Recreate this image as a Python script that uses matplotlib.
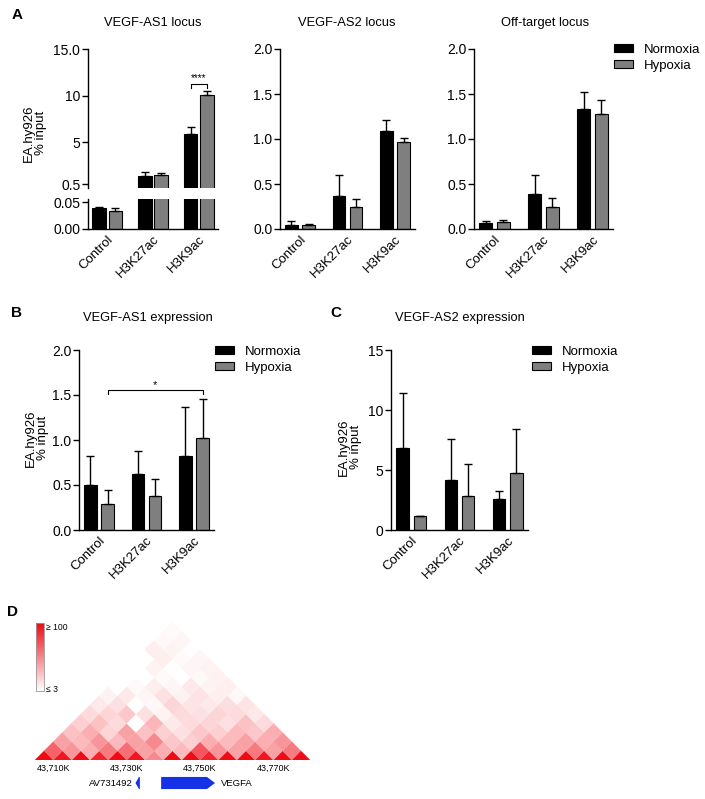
import numpy as np
import matplotlib
matplotlib.use("Agg")
import matplotlib.pyplot as plt
from matplotlib.collections import PolyCollection
from matplotlib.colors import LinearSegmentedColormap, Normalize
from matplotlib.patches import Polygon

plt.rcParams['font.family'] = ['Liberation Sans', 'DejaVu Sans']

W, H = 705, 799

groups = ["Control", "H3K27ac", "H3K9ac"]
conditions = ["Normoxia", "Hypoxia"]

# A: ChIP-qPCR, % input
as1_locus_norm = [0.038, 1.4, 5.9]
as1_locus_norm_err = [0.003, 0.4, 0.8]
as1_locus_hyp = [0.034, 1.55, 10.1]
as1_locus_hyp_err = [0.004, 0.22, 0.4]

as2_locus_norm = [0.05, 0.37, 1.09]
as2_locus_norm_err = [0.035, 0.23, 0.12]
as2_locus_hyp = [0.05, 0.24, 0.97]
as2_locus_hyp_err = [0.005, 0.09, 0.04]

off_locus_norm = [0.07, 0.385, 1.33]
off_locus_norm_err = [0.02, 0.215, 0.19]
off_locus_hyp = [0.078, 0.245, 1.28]
off_locus_hyp_err = [0.022, 0.105, 0.15]

# B / C: expression
as1_expr_norm = [0.5, 0.62, 0.82]
as1_expr_norm_err = [0.32, 0.255, 0.55]
as1_expr_hyp = [0.286, 0.375, 1.02]
as1_expr_hyp_err = [0.155, 0.195, 0.44]

as2_expr_norm = [6.8, 4.2, 2.55]
as2_expr_norm_err = [4.65, 3.4, 0.7]
as2_expr_hyp = [1.2, 2.83, 4.78]
as2_expr_hyp_err = [0.0, 2.64, 3.62]

# D: contact heatmap, 5 kb bins from 43,705K, one list per diagonal offset
bin_start_kb = 43705
bin_size_kb = 5
contact_diagonals = [
    [100, 95, 100, 90, 100, 95, 50, 100, 100, 90, 100, 100, 95, 100, 100],
    [65, 45, 35, 55, 60, 40, 35, 30, 70, 45, 40, 55, 40, 55],
    [40, 30, 45, 30, 40, 50, 25, 22, 35, 30, 40, 35, 45],
    [28, 35, 20, 40, 28, 22, 15, 25, 22, 30, 25, 35],
    [22, 28, 18, 3, 32, 12, 18, 20, 15, 28, 18],
    [18, 20, 25, 15, 8, 18, 15, 20, 18, 12],
    [12, 15, 3, 6, 20, 14, 12, 16, 14],
    [8, 12, 7, 15, 9, 14, 10, 6],
    [3, 5, 10, 7, 12, 8, 10],
    [3, 3, 5, 3, 6, 9],
    [3, 8, 4, 7, 8],
    [3, 10, 5, 7],
    [10, 8, 4],
    [6, 7],
    [5],
]
coord_ticks_kb = [43710, 43730, 43750, 43770]
coord_labels = ["43,710K", "43,730K", "43,750K", "43,770K"]

gene_names = ["AV731492", "VEGFA"]
gene_starts_kb = [43732.4, 43739.4]
gene_ends_kb = [43733.6, 43754.1]
gene_strands = [-1, 1]

NORM_COLOR = "black"
HYP_COLOR = "#7f7f7f"
TICK_FS = 10


def rect(left, top, right, bottom):
    return [left / W, 1 - bottom / H, (right - left) / W, (bottom - top) / H]


def ftext(x, y, s, **kw):
    return fig.text(x / W, 1 - y / H, s, **kw)


def style_axes(ax, show_x=True):
    for side in ("top", "right"):
        ax.spines[side].set_visible(False)
    ax.spines["left"].set_linewidth(1.0)
    ax.spines["bottom"].set_linewidth(1.0)
    ax.tick_params(axis="y", length=4, width=1, labelsize=TICK_FS, pad=1.5)
    ax.tick_params(axis="x", length=0, labelsize=TICK_FS - 0.5, pad=3)
    ax.set_xlim(-0.42, 2.42)
    if show_x:
        ax.set_xticks(np.arange(3))
        ax.set_xticklabels(groups, rotation=45, ha="right", rotation_mode="anchor")
    else:
        ax.spines["bottom"].set_visible(False)
        ax.set_xticks([])


def draw_bars(ax, norm, norm_err, hyp, hyp_err, width=0.26, off=0.18, err_from=0):
    x = np.arange(len(groups))
    b1 = ax.bar(x - off, norm, width, color=NORM_COLOR, edgecolor="black", lw=0.8, label=conditions[0])
    b2 = ax.bar(x + off, hyp, width, color=HYP_COLOR, edgecolor="black", lw=0.8, label=conditions[1])
    sl = slice(err_from, None)
    zero = np.zeros(len(x[sl]))
    ax.errorbar((x - off)[sl], np.asarray(norm)[sl], yerr=[zero, np.asarray(norm_err)[sl]],
                fmt="none", ecolor="black", elinewidth=1, capsize=3, capthick=1)
    ax.errorbar((x + off)[sl], np.asarray(hyp)[sl], yerr=[zero, np.asarray(hyp_err)[sl]],
                fmt="none", ecolor="black", elinewidth=1, capsize=3, capthick=1)
    return b1, b2


def bracket(ax, x0, x1, y, leg, label, fs):
    ax.plot([x0, x0, x1, x1], [y - leg, y, y, y - leg], color="black", lw=0.8)
    ax.text((x0 + x1) / 2, y, label, ha="center", va="bottom", fontsize=fs)


fig = plt.figure(figsize=(W / 100, H / 100), dpi=100)

# ---- A1: broken axis
ax_up = fig.add_axes(rect(88, 49, 218, 188))
ax_lo = fig.add_axes(rect(88, 199, 218, 229))
handles = draw_bars(ax_up, as1_locus_norm, as1_locus_norm_err, as1_locus_hyp, as1_locus_hyp_err,
                    width=0.3, off=0.18, err_from=1)
draw_bars(ax_lo, as1_locus_norm, as1_locus_norm_err, as1_locus_hyp, as1_locus_hyp_err,
          width=0.3, off=0.18)
style_axes(ax_up, show_x=False)
style_axes(ax_lo)
ax_up.set_ylim(0.12, 15)
ax_up.set_yticks([0.5, 5, 10, 15])
ax_up.set_yticklabels(["0.5", "5", "10", "15.0"])
ax_lo.set_ylim(0, 0.0556)
ax_lo.set_yticks([0, 0.05])
ax_lo.set_yticklabels(["0.00", "0.05"])
bracket(ax_up, 2 - 0.18, 2 + 0.18, 11.3, 0.5, "****", 7)
ftext(153, 23, "VEGF-AS1 locus", ha="center", va="center", fontsize=9.3)
ftext(35, 133, "EA.hy926\n% input", ha="center", va="center", rotation=90, fontsize=9.5,
      linespacing=1.0)

# ---- A2
ax2 = fig.add_axes(rect(280, 49, 415, 229))
draw_bars(ax2, as2_locus_norm, as2_locus_norm_err, as2_locus_hyp, as2_locus_hyp_err)
style_axes(ax2)
ax2.set_ylim(0, 2.0)
ax2.set_yticks([0, 0.5, 1.0, 1.5, 2.0])
ax2.set_yticklabels(["0.0", "0.5", "1.0", "1.5", "2.0"])
ftext(347, 23, "VEGF-AS2 locus", ha="center", va="center", fontsize=9.3)

# ---- A3
ax3 = fig.add_axes(rect(474, 49, 613, 229))
draw_bars(ax3, off_locus_norm, off_locus_norm_err, off_locus_hyp, off_locus_hyp_err)
style_axes(ax3)
ax3.set_ylim(0, 2.0)
ax3.set_yticks([0, 0.5, 1.0, 1.5, 2.0])
ax3.set_yticklabels(["0.0", "0.5", "1.0", "1.5", "2.0"])
ftext(545, 23, "Off-target locus", ha="center", va="center", fontsize=9.3)

leg_kw = dict(frameon=False, fontsize=9.5, handlelength=1.45, handleheight=0.55,
              handletextpad=0.8, labelspacing=0.3, borderpad=0, borderaxespad=0,
              loc="upper left")
fig.legend(handles=handles, bbox_to_anchor=(614 / W, 1 - 44 / H), **leg_kw)

# ---- B
axb = fig.add_axes(rect(79, 350, 214, 530))
hb = draw_bars(axb, as1_expr_norm, as1_expr_norm_err, as1_expr_hyp, as1_expr_hyp_err)
style_axes(axb)
axb.set_ylim(0, 2.0)
axb.set_yticks([0, 0.5, 1.0, 1.5, 2.0])
axb.set_yticklabels(["0.0", "0.5", "1.0", "1.5", "2.0"])
bracket(axb, 0 + 0.18, 2 + 0.18, 1.557, 0.045, "*", 8)
ftext(148, 318, "VEGF-AS1 expression", ha="center", va="center", fontsize=9.3)
ftext(37, 438, "EA.hy926\n% input", ha="center", va="center", rotation=90, fontsize=9.5,
      linespacing=1.0)
fig.legend(handles=hb, bbox_to_anchor=(215 / W, 1 - 346 / H), **leg_kw)

# ---- C
axc = fig.add_axes(rect(391, 350, 528, 530))
hc = draw_bars(axc, as2_expr_norm, as2_expr_norm_err, as2_expr_hyp, as2_expr_hyp_err)
style_axes(axc)
axc.set_ylim(0, 15)
axc.set_yticks([0, 5, 10, 15])
ftext(460, 318, "VEGF-AS2 expression", ha="center", va="center", fontsize=9.3)
ftext(350, 447, "EA.hy926\n% input", ha="center", va="center", rotation=90, fontsize=9.5,
      linespacing=1.0)
fig.legend(handles=hc, bbox_to_anchor=(532 / W, 1 - 346 / H), **leg_kw)

# ---- D: triangle heatmap
n_bins = len(contact_diagonals[0])
axh = fig.add_axes(rect(35, 622, 310, 760))
verts, vals = [], []
half = bin_size_kb / 2
for d, row in enumerate(contact_diagonals):
    for i, v in enumerate(row):
        cx = bin_start_kb + bin_size_kb * (i + d / 2 + 0.5)
        cy = bin_size_kb * d / 2
        verts.append([(cx - half, cy), (cx, cy + half), (cx + half, cy), (cx, cy - half)])
        vals.append(v)
cmap = LinearSegmentedColormap.from_list("wr", ["#ffffff", "#ef0a14"])
norm = Normalize(vmin=3, vmax=100)
pc = PolyCollection(verts, array=np.array(vals), cmap=cmap, norm=norm,
                    edgecolor="face", linewidth=0.2)
axh.add_collection(pc)
axh.set_xlim(bin_start_kb, bin_start_kb + n_bins * bin_size_kb)
axh.set_ylim(0, n_bins * bin_size_kb / 2)
for s in axh.spines.values():
    s.set_visible(False)
axh.set_yticks([])
axh.set_xticks(coord_ticks_kb)
axh.set_xticklabels(coord_labels, fontsize=6.5)
axh.tick_params(axis="x", length=0, pad=3)

cax = fig.add_axes(rect(36, 623, 44, 691))
cb = fig.colorbar(pc, cax=cax)
cb.set_ticks([])
cb.minorticks_off()
cb.outline.set_edgecolor("#999999")
cb.outline.set_linewidth(0.6)
ftext(46, 627, "≥ 100", ha="left", va="center", fontsize=6.2)
ftext(46, 689, "≤ 3", ha="left", va="center", fontsize=6.2)

# gene track
axg = fig.add_axes(rect(35, 772, 310, 794))
axg.set_xlim(bin_start_kb, bin_start_kb + n_bins * bin_size_kb)
axg.set_ylim(-1, 1)
axg.axis("off")
head_kb = 2.2
for name, s, e, strand in zip(gene_names, gene_starts_kb, gene_ends_kb, gene_strands):
    hl = min(head_kb, (e - s) * 0.8)
    if strand > 0:
        pts = [(s, -0.55), (e - hl, -0.55), (e, 0), (e - hl, 0.55), (s, 0.55)]
        axg.text(e + 1.5, 0, name, ha="left", va="center", fontsize=6.8)
    else:
        pts = [(e, -0.55), (s + hl, -0.55), (s, 0), (s + hl, 0.55), (e, 0.55)]
        axg.text(s - 0.8, 0, name, ha="right", va="center", fontsize=6.8)
    axg.add_patch(Polygon(pts, closed=True, color="#1632e6", lw=0))

# panel letters
for letter, (x, y) in zip("ABCD", [(17, 15), (17, 313), (336, 313), (13, 612)]):
    ftext(x, y, letter, ha="center", va="center", fontsize=11, fontweight="bold")

fig.savefig("out.png", dpi=100)
